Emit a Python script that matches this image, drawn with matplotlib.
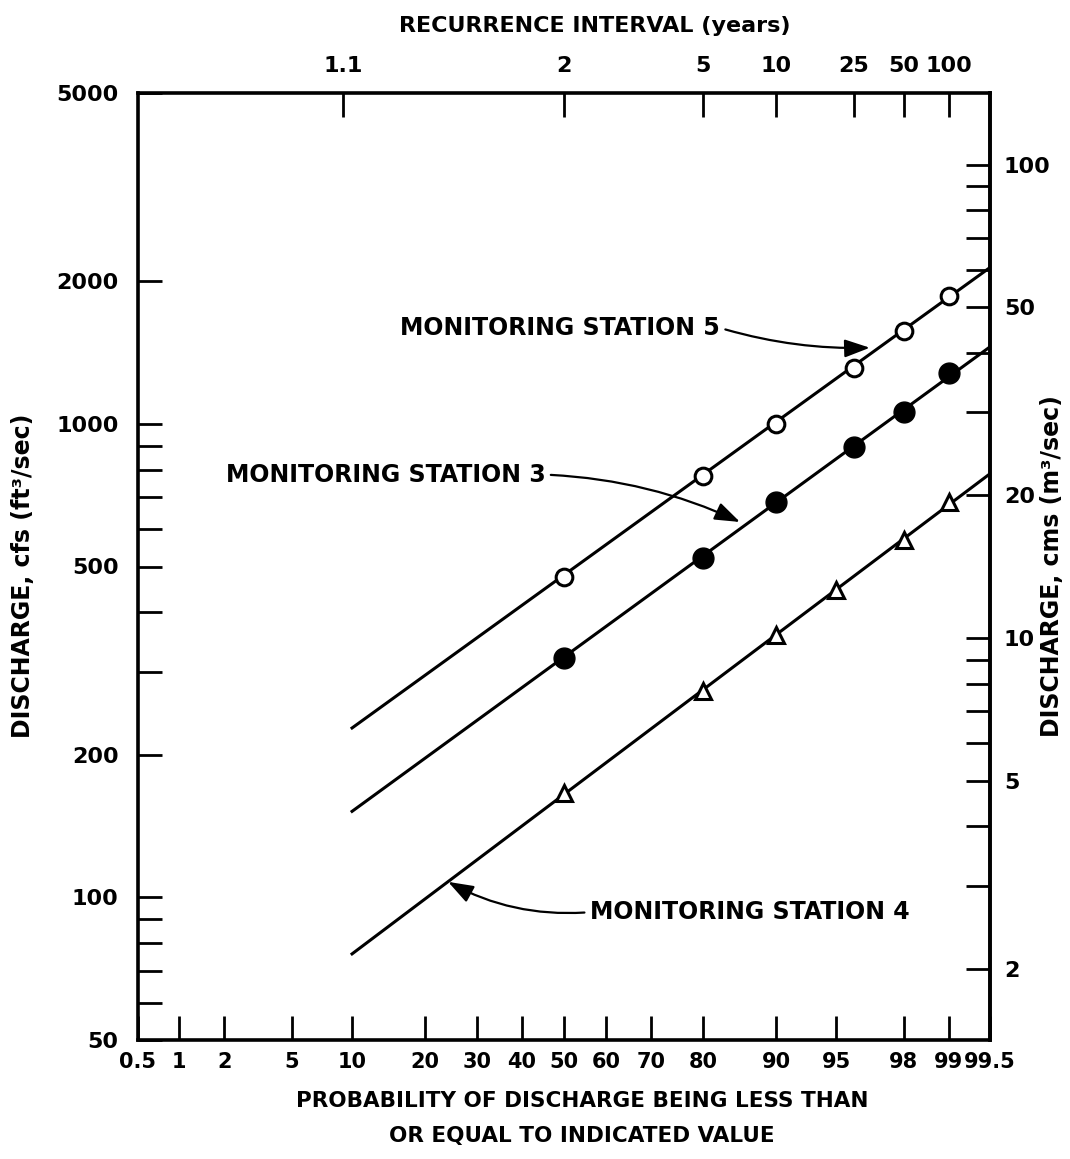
import math
from statistics import NormalDist

import numpy as np
import matplotlib
matplotlib.use("Agg")
import matplotlib.pyplot as plt
from matplotlib.ticker import NullFormatter

# probability (%) of discharge being less than or equal to value
prob_35 = [50, 80, 90, 96, 98, 99]
prob_4 = [50, 80, 90, 95, 98, 99]
# discharge, cfs
q_station5 = [475, 775, 1000, 1310, 1570, 1860]
q_station3 = [320, 522, 684, 895, 1060, 1280]
q_station4 = [166, 273, 359, 447, 570, 684]

# fitted lines, end values read at 10 % and 99.5 %
line_prob = [10, 99.5]
line5 = [228, 2140]
line3 = [152, 1455]
line4 = [76, 785]

prob_ticks = [0.5, 1, 2, 5, 10, 20, 30, 40, 50, 60, 70, 80, 90, 95, 98, 99, 99.5]
recur_ticks = [1.1, 2, 5, 10, 25, 50, 100]
cfs_major = [50, 100, 200, 500, 1000, 2000, 5000]
cfs_minor = [60, 70, 80, 90, 300, 400, 600, 700, 800, 900]
cms_major = [2, 5, 10, 20, 50, 100]
cms_minor = [3, 4, 6, 7, 8, 9, 30, 40, 60, 70, 80, 90]
CFS_PER_CMS = 35.3147

plt.rcParams['font.family'] = ['DejaVu Sans']
plt.rcParams['font.weight'] = 'bold'

nd = NormalDist()


def _inv1(v):
    if not np.isfinite(v):
        return np.nan
    return nd.inv_cdf(v)


_inv = np.vectorize(_inv1, otypes=[float])
_erf = np.vectorize(math.erf, otypes=[float])


def p_to_z(p):
    p = np.clip(np.asarray(p, dtype=float) / 100.0, 1e-9, 1 - 1e-9)
    return _inv(p)


def z_to_p(z):
    return 50.0 * (1.0 + _erf(np.asarray(z, dtype=float) / math.sqrt(2)))


def fmt(v):
    return ('%g' % v)


fig = plt.figure(figsize=(10.70, 11.59), dpi=100)
ax = fig.add_axes([138 / 1070, 1 - 1040 / 1159, 852 / 1070, 947 / 1159])

ax.set_xscale('function', functions=(p_to_z, z_to_p))
ax.set_yscale('log')
ax.set_xlim(0.5, 99.5)
ax.set_ylim(50, 5000)

lw = 2.2
ax.plot(line_prob, line5, color='black', lw=lw, zorder=2)
ax.plot(line_prob, line3, color='black', lw=lw, zorder=2)
ax.plot(line_prob, line4, color='black', lw=lw, zorder=2)
ax.plot(prob_35, q_station5, ls='none', marker='o', ms=12, mfc='white',
        mec='black', mew=2.2, zorder=3)
ax.plot(prob_35, q_station3, ls='none', marker='o', ms=15, mfc='black',
        mec='black', zorder=3)
ax.plot(prob_4, q_station4, ls='none', marker='^', ms=12, mfc='white',
        mec='black', mew=2.2, zorder=3)

for s in ax.spines.values():
    s.set_linewidth(2.6)

# bottom probability axis
ax.set_xticks(prob_ticks, labels=[fmt(v) for v in prob_ticks])
ax.tick_params(axis='x', which='major', direction='in', length=17, width=2,
               labelsize=15, pad=9, top=False)
ax.set_xlabel('PROBABILITY OF DISCHARGE BEING LESS THAN\nOR EQUAL TO INDICATED VALUE',
              fontsize=15.5, fontweight='bold', linespacing=1.95)
ax.xaxis.set_label_coords(0.521, -0.054)

# left cfs axis
ax.set_yticks(cfs_major, labels=[fmt(v) for v in cfs_major])
ax.set_yticks(cfs_minor, minor=True)
ax.yaxis.set_minor_formatter(NullFormatter())
ax.tick_params(axis='y', which='both', direction='in', length=17, width=2,
               labelsize=16, pad=14, right=False)
ax.set_ylabel('DISCHARGE, cfs (ft³/sec)', fontsize=17, fontweight='bold')
ax.yaxis.set_label_coords(-0.121, 0.49)

# top recurrence axis
top = ax.twiny()
top.set_xscale('function', functions=(p_to_z, z_to_p))
top.set_xlim(0.5, 99.5)
top.set_xticks([100 * (1 - 1 / t) for t in recur_ticks],
               labels=[fmt(t) for t in recur_ticks])
top.tick_params(axis='x', which='major', direction='in', length=17, width=2,
                labelsize=16, pad=12)
for s in top.spines.values():
    s.set_visible(False)
top.set_xlabel('RECURRENCE INTERVAL (years)', fontsize=16, fontweight='bold')
top.xaxis.set_label_coords(0.536, 1.064)

# right cms axis
sec = ax.secondary_yaxis('right', functions=(lambda q: q / CFS_PER_CMS,
                                             lambda c: c * CFS_PER_CMS))
sec.set_yticks(cms_major, labels=[fmt(v) for v in cms_major])
sec.set_yticks(cms_minor, minor=True)
sec.yaxis.set_minor_formatter(NullFormatter())
sec.tick_params(axis='y', which='both', direction='in', length=17, width=2,
                labelsize=16, pad=10)
sec.spines['right'].set_linewidth(2.6)
sec.set_ylabel('DISCHARGE, cms (m³/sec)', fontsize=17, fontweight='bold')
sec.yaxis.set_label_coords(1.059, 0.50, transform=ax.transAxes)

# station labels
arrow = dict(arrowstyle='-|>,head_length=0.7,head_width=0.25', color='black',
             lw=1.6, mutation_scale=22, shrinkA=2, shrinkB=0)
ax.annotate('MONITORING STATION 5', xy=(0.859, 0.731), xycoords='axes fraction',
            xytext=(0.683, 0.752), textcoords='axes fraction', ha='right',
            va='center', fontsize=17, fontweight='bold',
            arrowprops=dict(arrow, connectionstyle='arc3,rad=0.08', relpos=(1, 0.5)))
ax.annotate('MONITORING STATION 3', xy=(0.7066, 0.547), xycoords='axes fraction',
            xytext=(0.478, 0.597), textcoords='axes fraction', ha='right',
            va='center', fontsize=17, fontweight='bold',
            arrowprops=dict(arrow, connectionstyle='arc3,rad=-0.1', relpos=(1, 0.5)))
ax.annotate('MONITORING STATION 4', xy=(0.364, 0.167), xycoords='axes fraction',
            xytext=(0.5305, 0.135), textcoords='axes fraction', ha='left',
            va='center', fontsize=17, fontweight='bold',
            arrowprops=dict(arrow, connectionstyle='arc3,rad=-0.15', relpos=(0, 0.5)))

fig.savefig('out.png', dpi=100)
